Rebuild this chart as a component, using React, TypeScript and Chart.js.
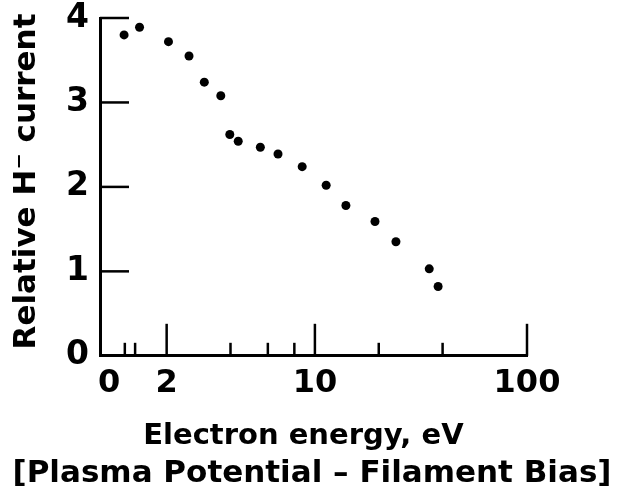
import React, { useEffect, useRef } from "react";
import { Chart, registerables } from "chart.js";

Chart.register(...registerables);

// Data
const energyEV = [1.26, 1.49, 2.04, 2.55, 3.01, 3.6, 3.97, 4.35, 5.53, 6.7, 8.71, 11.3, 14.0, 19.2, 24.1, 34.6, 38.1];
const relativeCurrent = [3.8, 3.89, 3.72, 3.55, 3.24, 3.08, 2.62, 2.54, 2.47, 2.39, 2.24, 2.02, 1.78, 1.59, 1.35, 1.03, 0.82];

// Axis tick definitions
const xTickValues = [1.07, 2, 10, 100];
const xTickLabels = ["0", "2", "10", "100"];
const xMajorMarks = [2, 10, 100];
const xMinorMarks = [1.27, 1.42, 4, 6, 8, 20, 40];
const yTickValues = [0, 1, 2, 3, 4];
const yMarks = [1, 2, 3, 4];

const FONT = "'DejaVu Sans', 'Liberation Sans', sans-serif";

const inwardTicks = {
  id: "inwardTicks",
  afterDraw(chart: any) {
    const { ctx, chartArea } = chart;
    const xs = chart.scales.x;
    const ys = chart.scales.y;
    ctx.save();
    ctx.strokeStyle = "#000";
    ctx.lineWidth = 2.5;
    ctx.lineCap = "butt";
    const vline = (v: number, len: number) => {
      const px = xs.getPixelForValue(v);
      ctx.beginPath();
      ctx.moveTo(px, chartArea.bottom);
      ctx.lineTo(px, chartArea.bottom - len);
      ctx.stroke();
    };
    xMajorMarks.forEach((v) => vline(v, 32));
    xMinorMarks.forEach((v) => vline(v, 13));
    yMarks.forEach((v) => {
      const py = ys.getPixelForValue(v);
      ctx.beginPath();
      ctx.moveTo(chartArea.left, py);
      ctx.lineTo(chartArea.left + 29, py);
      ctx.stroke();
    });
    ctx.restore();
  },
};

export default function App() {
  const canvasRef = useRef<HTMLCanvasElement>(null);

  useEffect(() => {
    if (!canvasRef.current) return;
    const chart = new Chart(canvasRef.current, {
      type: "scatter",
      data: {
        datasets: [
          {
            data: energyEV.map((x, i) => ({ x, y: relativeCurrent[i] })),
            backgroundColor: "#000",
            borderWidth: 0,
            pointRadius: 4.5,
            pointHoverRadius: 4.5,
            showLine: false,
          },
        ],
      },
      options: {
        responsive: false,
        animation: false,
        layout: { padding: { left: 0, right: 0, top: 18, bottom: 0 } },
        plugins: {
          legend: { display: false },
          tooltip: { enabled: false },
          title: {
            display: true,
            position: "bottom",
            text: "[Plasma Potential \u2013 Filament Bias]",
            color: "#000",
            font: { family: FONT, size: 31, weight: "bold" },
            padding: { top: 0, bottom: 6 },
          },
        },
        scales: {
          x: {
            type: "logarithmic",
            min: 0.97,
            max: 100,
            afterBuildTicks: (scale: any) => {
              scale.ticks = xTickValues.map((v) => ({ value: v }));
            },
            afterFit: (scale: any) => {
              scale.height = 100;
              scale.paddingLeft = 0;
              scale.paddingRight = 0;
            },
            grid: { display: false, drawTicks: false },
            border: { display: true, width: 3, color: "#000" },
            ticks: {
              autoSkip: false,
              maxRotation: 0,
              minRotation: 0,
              padding: 9,
              color: "#000",
              font: { family: FONT, size: 32, weight: "bold" },
              callback: (_v: any, i: number) => xTickLabels[i],
            },
            title: {
              display: true,
              text: "Electron energy, eV  ",
              color: "#000",
              font: { family: FONT, size: 29, weight: "bold" },
              padding: { top: 0, bottom: 2 },
            },
          },
          y: {
            type: "linear",
            min: 0,
            max: 4,
            afterBuildTicks: (scale: any) => {
              scale.ticks = yTickValues.map((v) => ({ value: v }));
            },
            afterFit: (scale: any) => {
              scale.width = 100;
              scale.paddingTop = 0;
              scale.paddingBottom = 0;
            },
            grid: { display: false, drawTicks: false },
            border: { display: true, width: 3, color: "#000" },
            ticks: {
              padding: 11,
              color: "#000",
              font: { family: FONT, size: 33, weight: "bold" },
              callback: (v: any) => String(v),
            },
            title: {
              display: true,
              text: " Relative H\u207B current",
              color: "#000",
              font: { family: FONT, size: 31, weight: "bold" },
              padding: { top: 8, bottom: 0 },
            },
          },
          yRight: {
            type: "linear",
            position: "right",
            min: 0,
            max: 4,
            afterFit: (scale: any) => {
              scale.width = 97;
              scale.paddingTop = 0;
              scale.paddingBottom = 0;
            },
            grid: { display: false, drawTicks: false },
            border: { display: false },
            ticks: { display: false },
          },
        },
      },
      plugins: [inwardTicks],
    });
    return () => chart.destroy();
  }, []);

  return (
    <div style={{ position: "absolute", left: 0, top: 0, width: 624, height: 499, background: "#fff" }}>
      <canvas ref={canvasRef} width={624} height={499} />
    </div>
  );
}
